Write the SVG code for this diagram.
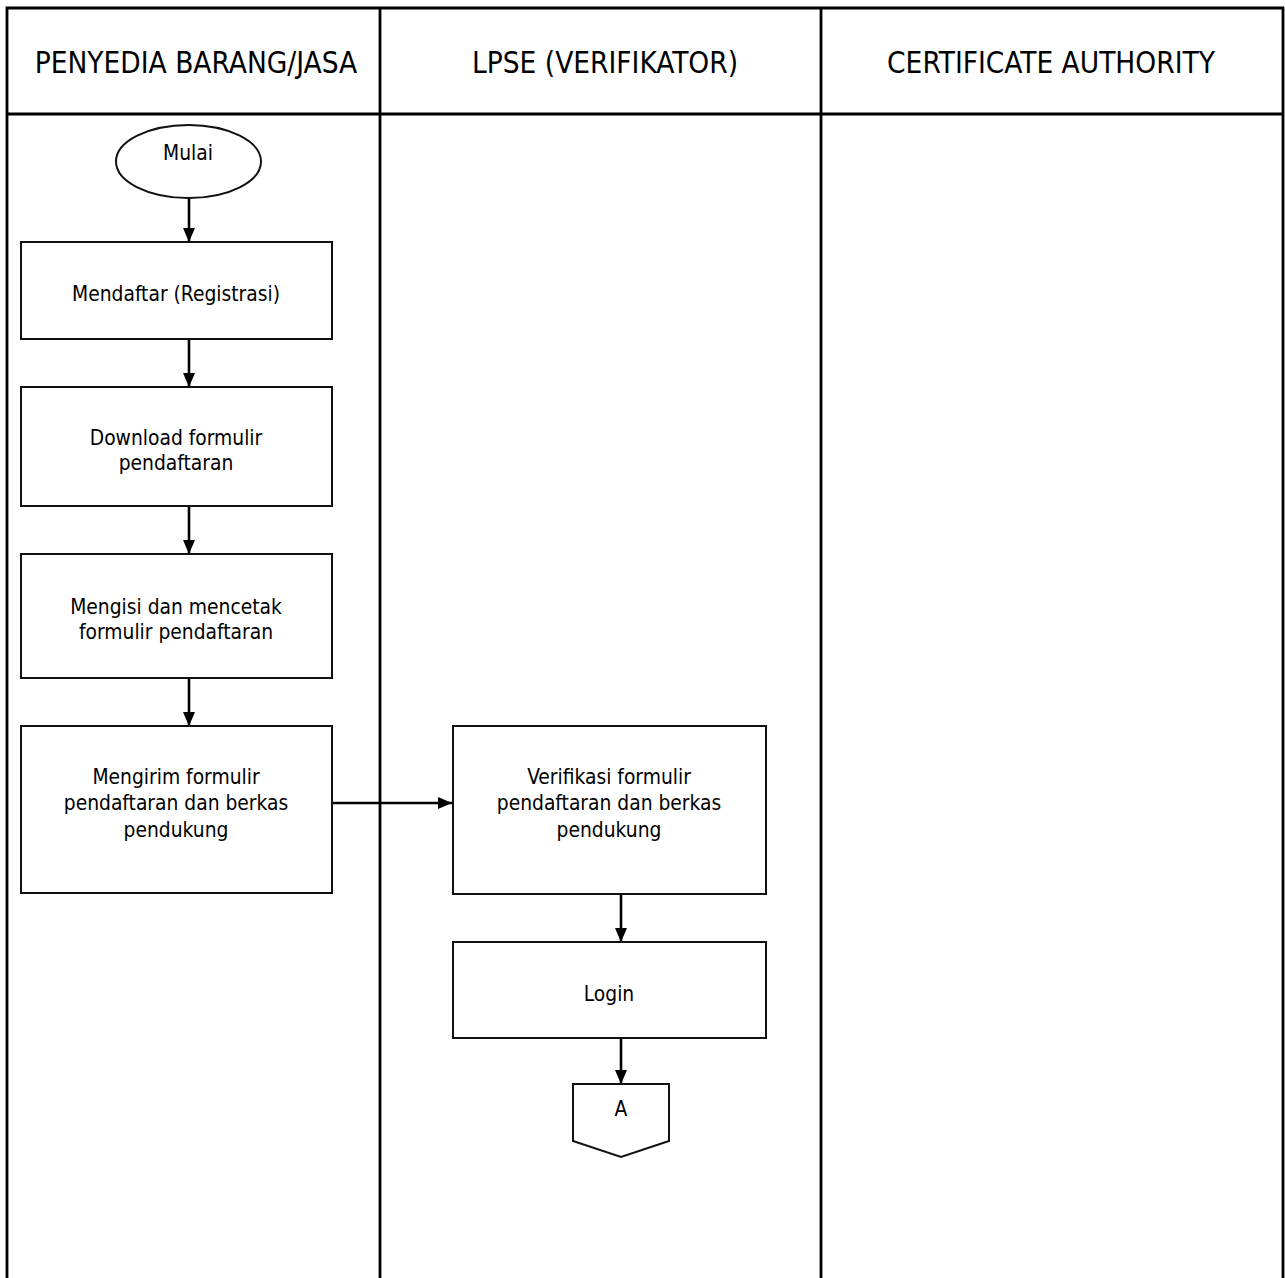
<svg xmlns="http://www.w3.org/2000/svg" width="1285" height="1278" viewBox="0 0 1285 1278">
<style>
.lane{fill:none;stroke:#000;stroke-width:2.8}
.box{fill:#fff;stroke:#111;stroke-width:2}
.hdr{font-family:'DejaVu Sans Condensed','DejaVu Sans',sans-serif;font-stretch:condensed;font-size:29.5px;fill:#000;text-anchor:middle}
.t{font-family:'DejaVu Sans Condensed','DejaVu Sans',sans-serif;font-stretch:condensed;font-size:20.8px;fill:#000;text-anchor:middle}
.c{fill:none;stroke:#000;stroke-width:2.6}
</style>
<defs>
<marker id="ah" markerUnits="userSpaceOnUse" markerWidth="15" markerHeight="13" refX="14" refY="6" orient="auto">
<path d="M0,0 L14,6 L0,12 z" fill="#000"/>
</marker>
</defs>
<rect width="1285" height="1278" fill="#fff"/>
<g id="lanes">
<path class="lane" d="M7,1278 V8 H1283 V1278 M7,114 H1283 M380,8 V1278 M821,8 V1278"/>
<text class="hdr" x="196" y="73">PENYEDIA BARANG/JASA</text>
<text class="hdr" x="605" y="73">LPSE (VERIFIKATOR)</text>
<text class="hdr" x="1051" y="73">CERTIFICATE AUTHORITY</text>
</g>
<g id="connectors">
<line class="c" x1="189" y1="198" x2="189" y2="242" marker-end="url(#ah)"/>
<line class="c" x1="189" y1="339" x2="189" y2="387" marker-end="url(#ah)"/>
<line class="c" x1="189" y1="506" x2="189" y2="554" marker-end="url(#ah)"/>
<line class="c" x1="189" y1="678" x2="189" y2="726" marker-end="url(#ah)"/>
<line class="c" x1="332" y1="803" x2="452" y2="803" marker-end="url(#ah)"/>
<line class="c" x1="621" y1="894" x2="621" y2="942" marker-end="url(#ah)"/>
<line class="c" x1="621" y1="1038" x2="621" y2="1084" marker-end="url(#ah)"/>
</g>
<g id="mulai">
<ellipse class="box" cx="188.5" cy="161.5" rx="72.5" ry="36.5"/>
<text class="t" x="188" y="160">Mulai</text>
</g>
<g id="mendaftar">
<rect class="box" x="21" y="242" width="311" height="97"/>
<text class="t" x="176" y="301">Mendaftar (Registrasi)</text>
</g>
<g id="download">
<rect class="box" x="21" y="387" width="311" height="119"/>
<text class="t" x="176" y="445">Download formulir</text>
<text class="t" x="176" y="470">pendaftaran</text>
</g>
<g id="mengisi">
<rect class="box" x="21" y="554" width="311" height="124"/>
<text class="t" x="176" y="614">Mengisi dan mencetak</text>
<text class="t" x="176" y="639">formulir pendaftaran</text>
</g>
<g id="mengirim">
<rect class="box" x="21" y="726" width="311" height="167"/>
<text class="t" x="176" y="784">Mengirim formulir</text>
<text class="t" x="176" y="810">pendaftaran dan berkas</text>
<text class="t" x="176" y="837">pendukung</text>
</g>
<g id="verifikasi">
<rect class="box" x="453" y="726" width="313" height="168"/>
<text class="t" x="609" y="784">Verifikasi formulir</text>
<text class="t" x="609" y="810">pendaftaran dan berkas</text>
<text class="t" x="609" y="837">pendukung</text>
</g>
<g id="login">
<rect class="box" x="453" y="942" width="313" height="96"/>
<text class="t" x="609" y="1001">Login</text>
</g>
<g id="connectorA">
<path class="box" d="M573,1084 H669 V1141 L621,1157 L573,1141 Z"/>
<text class="t" x="621" y="1116">A</text>
</g>
</svg>
